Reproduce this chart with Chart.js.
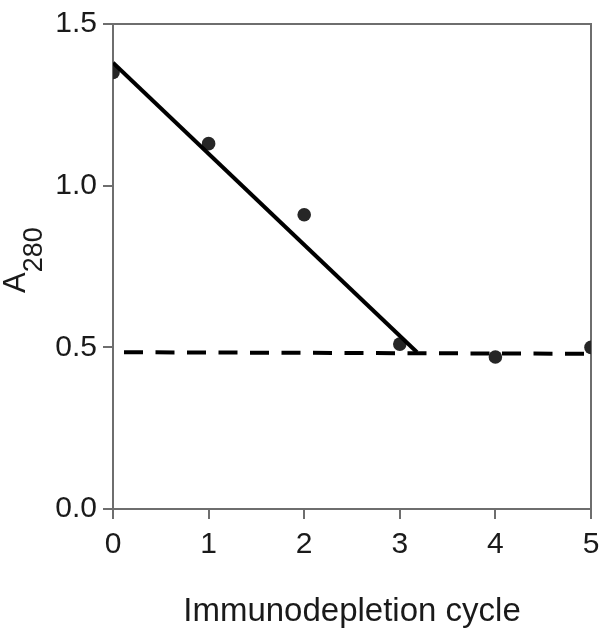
<!DOCTYPE html>
<html>
<head>
<meta charset="utf-8">
<script src="https://cdn.jsdelivr.net/npm/chart.js@4"></script>
<style>
  html, body { margin: 0; padding: 0; background: #fff; }
  #wrap { width: 600px; height: 628px; position: relative; }
</style>
</head>
<body>
<div id="wrap"><canvas id="chart"></canvas></div>
<script>
// measured points
const cycles = [0, 1, 2, 3, 4, 5];
const a280 = [1.35, 1.13, 0.91, 0.51, 0.47, 0.50];

// fitted decline (solid) and plateau (dashed)
const declineX = [0, 3.18];
const declineY = [1.38, 0.485];
const plateauX = [0, 5];
const plateauY = [0.485, 0.48];

const xTicks = [0, 1, 2, 3, 4, 5];
const yTicks = [0, 0.5, 1.0, 1.5];

const FONT = "'Liberation Sans', Arial, Helvetica, sans-serif";
const axisGray = '#6e6e6e';

const toXY = (xs, ys) => xs.map((x, i) => ({ x, y: ys[i] }));

// box round the plot + subscripted y label
const framePlugin = {
  id: 'frame',
  beforeDatasetsDraw(chart) {
    const { ctx, chartArea: a } = chart;
    ctx.save();
    ctx.strokeStyle = axisGray;
    ctx.lineWidth = 2;
    ctx.beginPath();
    ctx.moveTo(a.left, a.top);
    ctx.lineTo(a.right, a.top);
    ctx.lineTo(a.right, a.bottom);
    ctx.stroke();
    ctx.restore();
  },
  afterDraw(chart) {
    const ctx = chart.ctx;
    ctx.save();
    ctx.translate(25, 293);
    ctx.rotate(-Math.PI / 2);
    ctx.fillStyle = '#1a1a1a';
    ctx.textBaseline = 'alphabetic';
    ctx.textAlign = 'left';
    ctx.font = '31px ' + FONT;
    ctx.fillText('A', 0, 0);
    const w = ctx.measureText('A').width;
    ctx.font = '27px ' + FONT;
    ctx.fillText('280', w, 17);
    ctx.restore();
  }
};

new Chart(document.getElementById('chart'), {
  type: 'scatter',
  data: {
    datasets: [
      { data: toXY(declineX, declineY), showLine: true, borderColor: '#000', borderWidth: 4,
        pointRadius: 0, borderCapStyle: 'butt' },
      { data: toXY(plateauX, plateauY), showLine: true, borderColor: '#000', borderWidth: 4,
        pointRadius: 0, borderDash: [19, 12.5], borderDashOffset: 20.5, borderCapStyle: 'butt' },
      { data: toXY(cycles, a280), showLine: false, pointRadius: 6.8,
        pointBackgroundColor: '#262626', pointBorderWidth: 0 }
    ]
  },
  options: {
    responsive: true,
    maintainAspectRatio: false,
    animation: false,
    layout: { padding: { left: 0, right: 0, top: 23, bottom: 0 } },
    plugins: { legend: { display: false }, tooltip: { enabled: false } },
    scales: {
      x: {
        type: 'linear', min: 0, max: 5,
        afterFit: s => { s.height = 119; s.paddingRight = 9; s.paddingLeft = 0; },
        afterBuildTicks: s => { s.ticks = xTicks.map(v => ({ value: v })); },
        grid: { drawOnChartArea: false, drawTicks: true, tickLength: 10, color: axisGray, lineWidth: 2 },
        border: { display: true, color: axisGray, width: 2 },
        ticks: { color: '#1a1a1a', padding: 8, font: { family: FONT, size: 30 } },
        title: { display: true, text: 'Immunodepletion cycle', color: '#1a1a1a',
          font: { family: FONT, size: 33, lineHeight: 1.0 }, padding: { top: 0, bottom: 0 } }
      },
      y: {
        type: 'linear', min: 0, max: 1.5,
        afterFit: s => { s.width = 113; },
        afterBuildTicks: s => { s.ticks = yTicks.map(v => ({ value: v })); },
        grid: { drawOnChartArea: false, drawTicks: true, tickLength: 10, color: axisGray, lineWidth: 2 },
        border: { display: true, color: axisGray, width: 2 },
        ticks: { color: '#1a1a1a', padding: 6, font: { family: FONT, size: 30 },
          callback: v => v.toFixed(1) }
      }
    }
  },
  plugins: [framePlugin]
});
</script>
</body>
</html>
